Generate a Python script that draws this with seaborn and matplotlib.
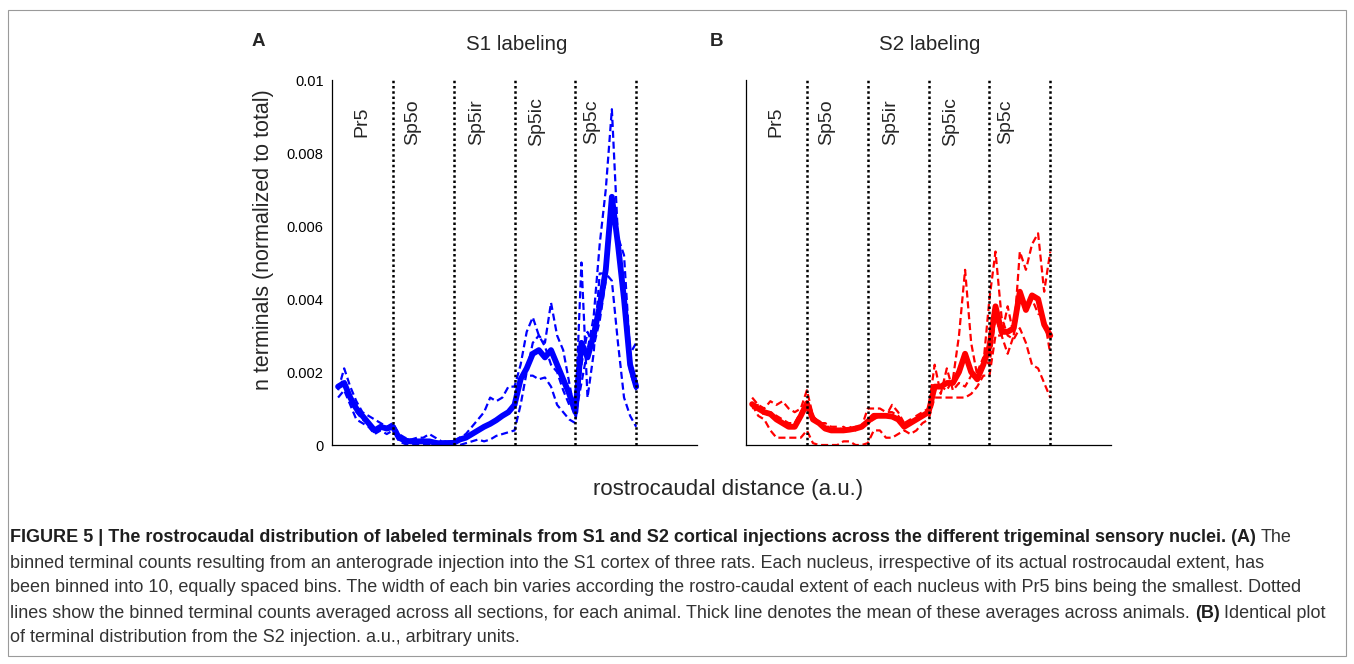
import numpy as np
import pandas as pd
import seaborn as sns
import matplotlib.pyplot as plt
from matplotlib.patches import Rectangle

# nuclei along the rostrocaudal axis, 10 bins each
nuclei = ["Pr5", "Sp5o", "Sp5ir", "Sp5ic", "Sp5c"]
bins_per_nucleus = 10
yticks = [0, 0.002, 0.004, 0.006, 0.008, 0.01]
ytick_labels = ["0", "0.002", "0.004", "0.006", "0.008", "0.01"]

# panel A, S1 injection (three animals + mean)
s1_rat1 = [0.0015, 0.0021, 0.0016, 0.0012, 0.0009, 0.0008, 0.0007, 0.0006, 0.0005, 0.0006,
           0.0003, 0.0002, 0.00015, 0.0002, 0.0002, 0.0003, 0.0002, 0.0001, 0.0001, 0.0001,
           0.0, 0.00005, 0.0001, 0.00015, 0.0001, 0.00015, 0.00025, 0.0003, 0.00035, 0.0004,
           0.0011, 0.0020, 0.0028, 0.0030, 0.0028, 0.0039, 0.0030, 0.0026, 0.0017, 0.0008,
           0.0017, 0.0026, 0.0035, 0.0055, 0.0070, 0.0092, 0.0057, 0.0052, 0.0025, 0.0028]
s1_rat2 = [0.0013, 0.0015, 0.0011, 0.0007, 0.0006, 0.0005, 0.0003, 0.0004, 0.0003, 0.0004,
           0.0002, 0.00015, 0.0001, 0.0001, 0.0001, 0.00005, 0.00005, 0.00008, 0.0001, 0.0001,
           0.0002, 0.0003, 0.0005, 0.0007, 0.0009, 0.0013, 0.0012, 0.0013, 0.0016, 0.0016,
           0.0022, 0.0031, 0.0035, 0.0030, 0.0027, 0.0022, 0.0020, 0.0015, 0.0011, 0.0009,
           0.0050, 0.0013, 0.0025, 0.0047, 0.0047, 0.0045, 0.0028, 0.0013, 0.0008, 0.0005]
s1_rat3 = [0.0016, 0.0018, 0.0012, 0.0009, 0.0007, 0.0006, 0.0004, 0.0005, 0.0005, 0.0005,
           0.0001, 0.00003, 0.0, 0.0, 0.00002, 0.0, 0.00002, 0.0, 0.0, 0.00003,
           0.0002, 0.0002, 0.0003, 0.0004, 0.0005, 0.0006, 0.0007, 0.0008, 0.0009, 0.0011,
           0.0018, 0.0019, 0.0019, 0.0018, 0.00185, 0.0016, 0.0011, 0.0009, 0.0007, 0.0006,
           0.0022, 0.0031, 0.0027, 0.0034, 0.0045, 0.0065, 0.0057, 0.0042, 0.0020, 0.0015]
s1_mean = [0.0016, 0.0017, 0.0013, 0.0010, 0.0008, 0.0006, 0.0004, 0.0005, 0.00045, 0.0005,
           0.0002, 0.00012, 0.0001, 0.0001, 0.0001, 0.0001, 0.00006, 0.00004, 0.00005, 0.00006,
           0.00015, 0.0002, 0.0003, 0.0004, 0.0005, 0.00058, 0.00068, 0.0008, 0.0009, 0.0011,
           0.0018, 0.0021, 0.0025, 0.0026, 0.0024, 0.0026, 0.0022, 0.0018, 0.0014, 0.0009,
           0.0028, 0.0024, 0.0030, 0.0038, 0.0048, 0.0068, 0.0055, 0.0040, 0.0022, 0.0016]

# panel B, S2 injection
s2_rat1 = [0.0013, 0.0011, 0.0010, 0.0012, 0.0011, 0.0012, 0.0010, 0.0009, 0.0010, 0.0015,
           0.0008, 0.0006, 0.0006, 0.0005, 0.0005, 0.0004, 0.0005, 0.0004, 0.0005, 0.0010,
           0.0010, 0.0010, 0.0009, 0.0009, 0.0008, 0.0006, 0.0007, 0.0007, 0.0008, 0.0009,
           0.0015, 0.0016, 0.0015, 0.0018, 0.0030, 0.0048, 0.0028, 0.0019, 0.0022, 0.0040,
           0.0053, 0.0035, 0.0030, 0.0029, 0.0032, 0.0028, 0.0022, 0.0021, 0.0017, 0.0013]
s2_rat2 = [0.0010, 0.0011, 0.0008, 0.0009, 0.0008, 0.0007, 0.0006, 0.0006, 0.0009, 0.0012,
           0.0008, 0.0006, 0.0005, 0.0005, 0.0004, 0.0005, 0.0004, 0.0005, 0.0005, 0.0006,
           0.0007, 0.0008, 0.0008, 0.0011, 0.0009, 0.0006, 0.0006, 0.0008, 0.0009, 0.0010,
           0.0022, 0.0014, 0.0021, 0.0015, 0.0017, 0.0016, 0.0019, 0.0020, 0.0024, 0.0022,
           0.0035, 0.0030, 0.0038, 0.0030, 0.0053, 0.0048, 0.0055, 0.0058, 0.0042, 0.0053]
s2_rat3 = [0.0011, 0.0008, 0.0007, 0.0004, 0.0002, 0.0002, 0.0002, 0.0002, 0.0002, 0.0004,
           0.00005, 0.0, 0.0, 0.0, 0.0, 0.0001, 0.0001, 0.0, 0.0, 0.00005,
           0.0004, 0.0004, 0.0002, 0.0002, 0.0003, 0.0004, 0.0003, 0.0004, 0.0006, 0.0007,
           0.0013, 0.0013, 0.0013, 0.0013, 0.0013, 0.0013, 0.0014, 0.0016, 0.0019, 0.0019,
           0.0030, 0.0030, 0.0025, 0.0030, 0.0040, 0.0037, 0.0040, 0.0036, 0.0035, 0.0025]
s2_mean = [0.00112, 0.0010, 0.0009, 0.00085, 0.0007, 0.0006, 0.0005, 0.0005, 0.0008, 0.00114,
           0.0007, 0.0006, 0.00045, 0.0004, 0.0004, 0.0004, 0.00042, 0.00045, 0.0005, 0.00064,
           0.0008, 0.0008, 0.0008, 0.00078, 0.0007, 0.0005, 0.0006, 0.0007, 0.0008, 0.0009,
           0.0016, 0.0016, 0.0017, 0.0017, 0.0020, 0.0025, 0.0020, 0.0018, 0.0022, 0.0027,
           0.0038, 0.0031, 0.0031, 0.0032, 0.0042, 0.0037, 0.0041, 0.0040, 0.0033, 0.0030]

W, H = 1354, 664
sns.set_style("white")
plt.rcParams["font.family"] = ["Liberation Sans", "DejaVu Sans"]

fig = plt.figure(figsize=(W / 100, H / 100), dpi=100)
fig.patch.set_facecolor("white")

# bin positions: nucleus k spans [k, k+1]
pos = np.arange(1, len(nuclei) * bins_per_nucleus + 1) / bins_per_nucleus

panels = [
    ([0.2452, 0.3298, 0.2696, 0.5497], [s1_rat1, s1_rat2, s1_rat3], s1_mean, "blue", True),
    ([0.5510, 0.3298, 0.2696, 0.5497], [s2_rat1, s2_rat2, s2_rat3], s2_mean, "red", False),
]
label_x = [0.49, 1.33, 2.38, 3.36, 4.26]

for rect, rats, mean, col, show_labels in panels:
    ax = fig.add_axes(rect)
    for r in rats:
        sns.lineplot(x=pos, y=r, ax=ax, color=col, linewidth=1.6,
                     linestyle=(0, (3.2, 1.7)))
    sns.lineplot(x=pos, y=mean, ax=ax, color=col, linewidth=4.2)
    ax.vlines(np.arange(1, len(nuclei) + 1), 0, 0.01, colors="black",
              linestyles=(0, (1, 1.1)), linewidth=1.8)
    for lx, name in zip(label_x, nuclei):
        ax.text(lx, 0.00885, name, rotation=90, ha="center", va="center", fontsize=14)
    ax.set_xlim(0, 6)
    ax.set_ylim(0, 0.01)
    ax.set_yticks(yticks)
    ax.set_yticklabels(ytick_labels if show_labels else [])
    ax.set_xticks(range(7))
    ax.set_xticklabels([])
    ax.tick_params(axis="both", direction="in", length=4, width=0.8, labelsize=10.5,
                   colors="black", pad=6)
    ax.tick_params(axis="x", length=3)
    for s in ["top", "right"]:
        ax.spines[s].set_visible(False)
    for s in ["left", "bottom"]:
        ax.spines[s].set_linewidth(0.9)
        ax.spines[s].set_color("black")
    ax.set_xlabel("")
    ax.set_ylabel("")

fig.text(263 / W, 1 - 240 / H, "n terminals (normalized to total)", rotation=90,
         ha="center", va="center", fontsize=15.5)
fig.text(728 / W, 1 - 490 / H, "rostrocaudal distance (a.u.)", ha="center", va="center",
         fontsize=16)
fig.text(258 / W, 1 - 42 / H, "A", ha="center", va="center", fontsize=13.5, fontweight="bold")
fig.text(717 / W, 1 - 42 / H, "B", ha="center", va="center", fontsize=13.5, fontweight="bold")
fig.text(517 / W, 1 - 45 / H, "S1 labeling", ha="center", va="center", fontsize=14.8)
fig.text(930 / W, 1 - 45 / H, "S2 labeling", ha="center", va="center", fontsize=14.8)

# outer frame
fig.patches.append(Rectangle((8 / W, 1 - 656 / H), 1338 / W, 646 / H, transform=fig.transFigure,
                             fill=False, edgecolor="#9a9a9a", linewidth=0.8))

# caption, mixing bold and regular runs on a line
cap_fs = 13.0
caption = [
    (537, [("FIGURE 5 | The rostrocaudal distribution of labeled terminals from S1 and S2 cortical "
            "injections across the different trigeminal sensory nuclei. (A)", "bold"),
           ("The", "normal")]),
    (563, [("binned terminal counts resulting from an anterograde injection into the S1 cortex of "
            "three rats. Each nucleus, irrespective of its actual rostrocaudal extent, has", "normal")]),
    (588, [("been binned into 10, equally spaced bins. The width of each bin varies according the "
            "rostro-caudal extent of each nucleus with Pr5 bins being the smallest. Dotted", "normal")]),
    (613, [("lines show the binned terminal counts averaged across all sections, for each animal. "
            "Thick line denotes the mean of these averages across animals.", "normal"),
           ("(B)", "bold"), ("Identical plot", "normal")]),
    (638, [("of terminal distribution from the S2 injection. a.u., arbitrary units.", "normal")]),
]
fig.canvas.draw()
renderer = fig.canvas.get_renderer()
probe = fig.text(0, 0, "a a", fontsize=cap_fs)
probe2 = fig.text(0, 0, "aa", fontsize=cap_fs)
space_w = probe.get_window_extent(renderer).width - probe2.get_window_extent(renderer).width
probe.remove()
probe2.remove()
for y, runs in caption:
    x = 10
    for txt, w in runs:
        t = fig.text(x / W, 1 - y / H, txt, fontsize=cap_fs, fontweight=w, ha="left",
                     va="center", color="#1e1e1e" if w == "bold" else "#333333")
        x += t.get_window_extent(renderer).width + space_w

fig.savefig("out.png", dpi=100, facecolor="white")
